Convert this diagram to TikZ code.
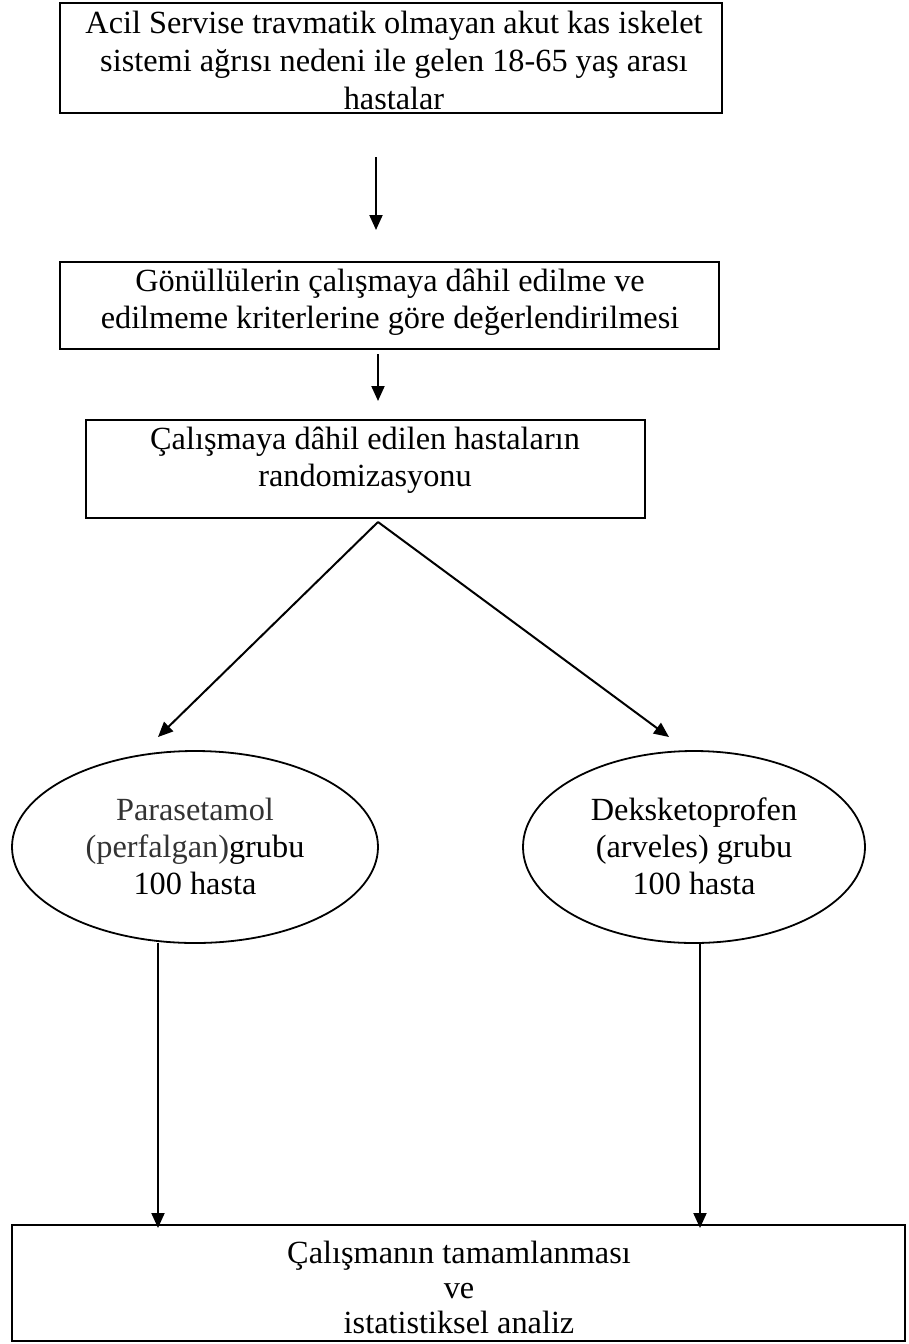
\documentclass[tikz,border=0pt]{standalone}
\usepackage{fontspec}
\setmainfont{Liberation Serif}
\usetikzlibrary{arrows.meta,calc}
\definecolor{softtext}{HTML}{333333}
\begin{document}
\begin{tikzpicture}[x=1pt,y=-1pt,
  txt/.style={font=\fontsize{32.3}{38}\selectfont, align=center, inner sep=0pt},
  boxline/.style={draw=black, line width=1.7pt},
  conn/.style={line width=2pt, -{Triangle[length=15pt,width=13pt]}}]
\useasboundingbox (0,0) rectangle (909,1344);
\fill[white] (0,0) rectangle (909,1344);

% boxes
\draw[boxline, line width=2.8pt] (60,3) rectangle (722,113);
\node[txt] (t1) at (394,60) {Acil Servise travmatik olmayan akut kas iskelet\\sistemi ağrısı nedeni ile gelen 18-65 yaş arası\\hastalar};
\coordinate (b1s) at (376,157);

\draw[boxline] (60,262) rectangle (719,349);
\node[txt, font=\fontsize{32.3}{37}\selectfont] (t2) at (390,302) {Gönüllülerin çalışmaya dâhil edilme ve\\edilmeme kriterlerine göre değerlendirilmesi};
\coordinate (b2n) at (376,230);
\coordinate (b2s) at (378,354);

\draw[boxline] (86,420) rectangle (645,518);
\node[txt, font=\fontsize{32.3}{37}\selectfont] (t3) at (365,460) {Çalışmaya dâhil edilen hastaların\\randomizasyonu};
\coordinate (b3n) at (378,401);
\coordinate (apex) at (378,522);

% ellipses
\draw[boxline, line width=1.8pt] (195,847) ellipse [x radius=183, y radius=96];
\node[txt, font=\fontsize{32.3}{37}\selectfont] (t4) at (195,846) {\textcolor{softtext}{Parasetamol}\\\textcolor{softtext}{(perfalgan)}grubu\\100 hasta};
\draw[boxline, line width=1.8pt] (694,847) ellipse [x radius=171, y radius=96];
\node[txt, font=\fontsize{32.3}{37}\selectfont] (t5) at (694,846) {Deksketoprofen\\(arveles) grubu\\100 hasta};
\coordinate (e1n) at (158,737);
\coordinate (e2n) at (669,737);
\coordinate (e1s) at (158,943);
\coordinate (e2s) at (700,943);

% final box
\draw[boxline] (12,1225) rectangle (905,1341);
\node[txt, font=\fontsize{32.3}{35}\selectfont] (t6) at (459,1287) {Çalışmanın tamamlanması\\ve\\istatistiksel analiz};
\coordinate (b4l) at (158,1228);
\coordinate (b4r) at (700,1228);

% connectors
\draw[conn] (b1s) -- (b2n);
\draw[conn] (b2s) -- (b3n);
\draw[conn] (apex) -- (e1n);
\draw[conn] (apex) -- (e2n);
\draw[conn] (e1s) -- (b4l);
\draw[conn] (e2s) -- (b4r);
\end{tikzpicture}
\end{document}
